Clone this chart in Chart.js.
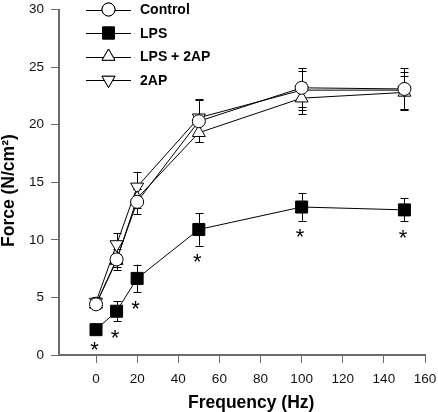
<!DOCTYPE html>
<html>
<head>
<meta charset="utf-8">
<script src="https://cdn.jsdelivr.net/npm/chart.js"></script>
<style>
  body { margin: 0; background: #fff; }
  #wrap { width: 438px; height: 412px; }
</style>
</head>
<body>
<div id="wrap"><canvas id="grafico" width="438" height="412"></canvas></div>
<script>
// dados
const freq = [0, 10, 20, 50, 100, 150];
const xTicks = [0, 20, 40, 60, 80, 100, 120, 140, 160];
const seriesNames = ['Control', 'LPS', 'LPS + 2AP', '2AP'];

const control = [4.4, 8.3, 13.3, 20.3, 23.2, 23.1];
const controlErr = [0.4, 0.9, 1.1, 1.8, 1.7, 1.8];
const lps = [2.2, 3.8, 6.65, 10.9, 12.85, 12.6];
const lpsErr = [0.3, 0.85, 1.2, 1.4, 1.2, 1.0];
const lps2ap = [4.4, 8.2, 13.6, 19.3, 22.3, 22.8];
const lps2apErr = [0.4, 0.6, 0.8, 0.8, 1.4, 1.4];
const ap2 = [4.6, 9.6, 14.6, 20.6, 23.0, 23.0];
const ap2Err = [0.4, 1.0, 1.3, 1.6, 1.7, 1.6];
// pontos com diferenca significativa (LPS)
const starFreq = [0, 10, 20, 50, 100, 150];

const xTitle = 'Frequency (Hz)';
const yTitle = 'Force (N/cm²)';

const values = [control, lps, lps2ap, ap2];
const errors = [controlErr, lpsErr, lps2apErr, ap2Err];
const styles = [
  { pointStyle: 'circle', radius: 6.5, fill: '#fff', rotation: 0 },
  { pointStyle: 'rect', radius: 8.5, fill: '#000', rotation: 0 },
  { pointStyle: 'triangle', radius: 7.5, fill: '#fff', rotation: 0 },
  { pointStyle: 'triangle', radius: 7.5, fill: '#fff', rotation: 180 }
];

const axisColor = '#6b6b6b';
const font = 'Liberation Sans, Arial, sans-serif';

function pts(vals) {
  return freq.map((f, i) => ({ x: f, y: vals[i] }));
}

const datasets = [];
// linhas primeiro, marcadores por cima
values.forEach((vals, k) => {
  datasets.push({
    label: seriesNames[k] + ' line',
    data: pts(vals),
    borderColor: '#000',
    borderWidth: 1,
    pointRadius: 0,
    fill: false,
    order: 2
  });
});
values.forEach((vals, k) => {
  const s = styles[k];
  datasets.push({
    label: seriesNames[k],
    data: pts(vals),
    showLine: false,
    pointStyle: s.pointStyle,
    pointRadius: s.radius,
    pointRotation: s.rotation,
    pointBackgroundColor: s.fill,
    pointBorderColor: '#000',
    pointBorderWidth: 1,
    order: 1
  });
});

function drawMarker(ctx, s, x, y) {
  Chart.helpers.drawPoint(ctx, { pointStyle: s.pointStyle, radius: s.radius, rotation: s.rotation, borderWidth: 1 }, x, y);
  ctx.fill();
  ctx.stroke();
}

const errorBars = {
  id: 'errorBars',
  beforeDatasetsDraw(chart) {
    const ctx = chart.ctx, xs = chart.scales.x, ys = chart.scales.y;
    ctx.save();
    ctx.strokeStyle = '#000';
    ctx.lineWidth = 1;
    values.forEach((vals, k) => {
      vals.forEach((v, i) => {
        const x = Math.round(xs.getPixelForValue(freq[i])) + 0.5;
        const top = ys.getPixelForValue(v + errors[k][i]);
        const bot = ys.getPixelForValue(v - errors[k][i]);
        ctx.beginPath();
        ctx.moveTo(x, top); ctx.lineTo(x, bot);
        ctx.moveTo(x - 4, Math.round(top) + 0.5); ctx.lineTo(x + 4, Math.round(top) + 0.5);
        ctx.moveTo(x - 4, Math.round(bot) + 0.5); ctx.lineTo(x + 4, Math.round(bot) + 0.5);
        ctx.stroke();
      });
    });
    ctx.restore();
  },
  afterDraw(chart) {
    const ctx = chart.ctx, xs = chart.scales.x, ys = chart.scales.y;
    ctx.save();
    // asteriscos
    ctx.fillStyle = '#000';
    ctx.font = '22px ' + font;
    ctx.textAlign = 'center';
    ctx.textBaseline = 'alphabetic';
    starFreq.forEach(f => {
      const i = freq.indexOf(f);
      const x = xs.getPixelForValue(f) - 1.5;
      const y = ys.getPixelForValue(lps[i] - lpsErr[i]) + 11;
      ctx.fillText('*', x, y + 12.5);
    });
    // titulos dos eixos
    ctx.font = 'bold 17.5px ' + font;
    ctx.textAlign = 'left';
    ctx.fillText(xTitle, 188, 407.5);
    ctx.save();
    ctx.translate(14, 247);
    ctx.rotate(-Math.PI / 2);
    ctx.fillText(yTitle, 0, 0);
    ctx.restore();
    // legenda
    seriesNames.forEach((name, k) => {
      const y = 9.5 + k * 23.5;
      ctx.strokeStyle = '#000';
      ctx.lineWidth = 1;
      ctx.beginPath();
      ctx.moveTo(86, Math.round(y) + 0.5);
      ctx.lineTo(131, Math.round(y) + 0.5);
      ctx.stroke();
      ctx.fillStyle = styles[k].fill;
      drawMarker(ctx, styles[k], 108.5, y);
      ctx.fillStyle = '#000';
      ctx.font = 'bold 14px ' + font;
      ctx.textAlign = 'left';
      ctx.textBaseline = 'middle';
      ctx.fillText(name, 140, y + 1);
    });
    ctx.restore();
  }
};

new Chart(document.getElementById('grafico'), {
  type: 'line',
  data: { datasets: datasets },
  plugins: [errorBars],
  options: {
    responsive: false,
    devicePixelRatio: 1,
    animation: false,
    layout: { padding: { top: 6, right: 13, left: 0, bottom: 0 } },
    plugins: { legend: { display: false }, tooltip: { enabled: false } },
    scales: {
      x: {
        type: 'linear',
        min: -18,
        max: 160,
        afterBuildTicks: scale => { scale.ticks = xTicks.map(v => ({ value: v })); },
        afterFit: scale => { scale.height = 57; scale.paddingLeft = 0; scale.paddingRight = 0; },
        grid: { drawOnChartArea: false, drawTicks: true, tickLength: 8, color: axisColor, lineWidth: 1 },
        border: { display: true, color: axisColor, width: 2 },
        ticks: { color: '#111', font: { family: font, size: 13.5 }, padding: 8, maxRotation: 0 }
      },
      y: {
        min: 0,
        max: 30,
        ticks: { stepSize: 5, color: '#111', font: { family: font, size: 13.5 }, padding: 7 },
        afterFit: scale => { scale.width = 59; scale.paddingTop = 0; scale.paddingBottom = 0; },
        grid: { drawOnChartArea: false, drawTicks: true, tickLength: 8, color: axisColor, lineWidth: 1 },
        border: { display: true, color: axisColor, width: 2 }
      }
    }
  }
});
</script>
</body>
</html>
